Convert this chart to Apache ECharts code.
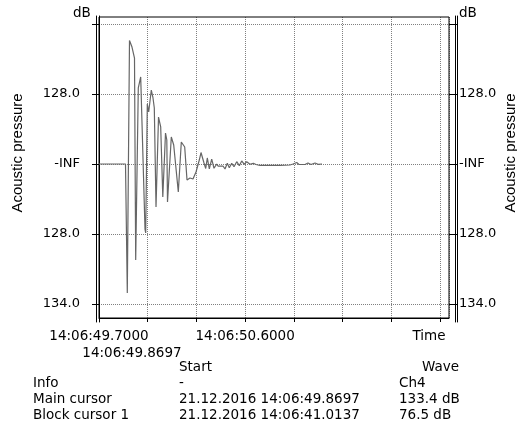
<!DOCTYPE html>
<html>
<head>
<meta charset="utf-8">
<script src="https://cdn.jsdelivr.net/npm/echarts@6/dist/echarts.min.js"></script>
<style>
html,body{margin:0;padding:0;background:#fff;}
#chart{width:517px;height:428px;}
</style>
</head>
<body>
<div id="chart"></div>
<script>
// Time offsets in seconds from 14:06:49.7000
var times = [0, 0.1632, 0.1743, 0.1878, 0.2032, 0.2186, 0.2260, 0.2420, 0.2568, 0.2833, 0.2876,
  0.2975, 0.3061, 0.3221, 0.3326, 0.3406, 0.3511, 0.3665, 0.3800, 0.3929, 0.4096, 0.4176,
  0.4219, 0.4453, 0.4601, 0.4884, 0.5069, 0.5278, 0.5420, 0.5605, 0.5789, 0.5974, 0.6177,
  0.6282, 0.6467, 0.6572, 0.6670, 0.6793, 0.6941, 0.7083, 0.7249, 0.7329, 0.7452, 0.7637,
  0.7760, 0.7902, 0.8025, 0.8173, 0.8315, 0.8481, 0.8641, 0.8789, 0.8949, 0.9097, 0.9300,
  0.9503, 0.9669, 0.9916, 1.0532, 1.1148, 1.1764, 1.1948, 1.2176, 1.2318, 1.2687, 1.2872,
  1.3057, 1.3303, 1.3488, 1.3734];
// Level on the display scale (0 = -INF line, +/-1 = 128.0, -2 = 134.0)
var levels = [0, 0, -1.843, 1.764, 1.671, 1.514, -1.371, 1.086, 1.243, -0.929, -0.986,
  0.857, 0.743, 1.057, 0.943, 0.8, -0.614, 0.671, 0.529, -0.471, 0.443, 0.343,
  -0.543, 0.386, 0.271, -0.4, 0.314, 0.243, -0.229, -0.2, -0.214, -0.114, 0.057,
  0.164, 0.014, -0.064, 0.086, -0.071, 0.071, -0.061, 0, -0.029, -0.057, -0.029,
  -0.071, 0.01, -0.053, 0.01, -0.039, 0.033, -0.024, 0.043, -0.004, 0.033, -0.004,
  0.01, -0.007, -0.021, -0.021, -0.021, -0.014, 0, 0.021, -0.007, -0.007, 0.014,
  -0.007, 0.014, -0.004, 0];
var yTickValues = [2, 1, 0, -1, -2];
var yTickLabels = ['', '128.0', '-INF', '128.0', '134.0'];
var xTickValues = [0, 0.9];
var xTickLabels = ['14:06:49.7000', '14:06:50.6000'];
var cursorTime = '14:06:49.8697';
var tableCols = ['', 'Start', 'Wave'];
var tableRowNames = ['Info', 'Main cursor', 'Block cursor 1'];
var tableStart = ['-', '21.12.2016 14:06:49.8697', '21.12.2016 14:06:41.0137'];
var tableWave = ['Ch4', '133.4 dB', '76.5 dB'];

var FONT = 'DejaVu Sans';
var FS = 13.5;
var chart = echarts.init(document.getElementById('chart'), null, {renderer: 'canvas'});

function yFmt(v) {
  for (var i = 0; i < yTickValues.length; i++) {
    if (Math.abs(v - yTickValues[i]) < 1e-6) return yTickLabels[i];
  }
  return '';
}
function xFmt(v) {
  for (var i = 0; i < xTickValues.length; i++) {
    if (Math.abs(v - xTickValues[i]) < 1e-6) return xTickLabels[i];
  }
  return '';
}
var data = times.map(function (t, i) { return [t, levels[i]]; });
var XMAX = 2.1555;
var dotted = {color: '#808080', type: [1, 1], width: 1};
var txt = {fontFamily: FONT, fontSize: FS, color: '#000'};
var ytxt = {fontFamily: FONT, fontSize: 13, color: '#000'};

var graphics = [];
function addText(x, y, s, align) {
  graphics.push({type: 'text', style: {text: s, x: x, y: y, fill: '#000', font: FS + 'px "' + FONT + '"', textAlign: align || 'left', textVerticalAlign: 'middle'}});
}
addText(73, 13, 'dB', 'left');
addText(459, 13, 'dB', 'left');
addText(429, 336, 'Time', 'center');
addText(132, 353, cursorTime, 'center');
addText(179, 367, tableCols[1], 'left');
addText(422, 367, tableCols[2], 'left');
for (var r = 0; r < tableRowNames.length; r++) {
  var yy = 383 + r * 16;
  addText(33, yy, tableRowNames[r], 'left');
  addText(179, yy, tableStart[r], 'left');
  addText(399, yy, tableWave[r], 'left');
}
graphics.push({type: 'text', x: 18, y: 153, rotation: Math.PI / 2,
  style: {text: 'Acoustic pressure', fill: '#000', font: '15px "Liberation Sans"', textAlign: 'center', textVerticalAlign: 'middle'}});
graphics.push({type: 'text', x: 511, y: 153, rotation: Math.PI / 2,
  style: {text: 'Acoustic pressure', fill: '#000', font: '15px "Liberation Sans"', textAlign: 'center', textVerticalAlign: 'middle'}});

var option = {
  animation: false,
  backgroundColor: '#fff',
  grid: [
    {left: 99, right: 68, top: 17, bottom: 110, show: true, borderColor: '#000', borderWidth: 1, backgroundColor: 'transparent', z: 4},
    {left: 99, right: 68, top: 24, bottom: 124},
    {left: 99, right: 68, top: 16, bottom: 106}
  ],
  xAxis: [
    {gridIndex: 0, type: 'value', min: 0, max: XMAX, interval: 0.3,
      axisLine: {show: true, lineStyle: {color: '#000', width: 1}},
      axisTick: {show: true, length: 4, lineStyle: {color: '#000'}},
      axisLabel: Object.assign({margin: 11, formatter: xFmt, showMaxLabel: false, hideOverlap: false}, txt),
      splitLine: {show: true, lineStyle: dotted}},
    {gridIndex: 1, type: 'value', min: 0, max: XMAX, show: false},
    {gridIndex: 2, type: 'value', min: 0, max: XMAX, show: false}
  ],
  yAxis: [
    {gridIndex: 1, type: 'value', position: 'left', min: -2, max: 2, interval: 1,
      axisLine: {show: false},
      axisTick: {show: true, length: 7, lineStyle: {color: '#000'}},
      axisLabel: Object.assign({margin: 19, formatter: yFmt}, ytxt),
      splitLine: {show: true, lineStyle: dotted}},
    {gridIndex: 1, type: 'value', position: 'right', min: -2, max: 2, interval: 1,
      axisLine: {show: false},
      axisTick: {show: true, length: 9, lineStyle: {color: '#000'}},
      axisLabel: Object.assign({margin: 10, formatter: yFmt}, ytxt),
      splitLine: {show: false}},
    {gridIndex: 2, type: 'value', position: 'left', offset: 5, axisLine: {show: true, lineStyle: {color: '#000'}}, axisTick: {show: false}, axisLabel: {show: false}, splitLine: {show: false}},
    {gridIndex: 2, type: 'value', position: 'left', offset: 3, axisLine: {show: true, lineStyle: {color: '#000'}}, axisTick: {show: false}, axisLabel: {show: false}, splitLine: {show: false}},
    {gridIndex: 2, type: 'value', position: 'right', offset: 6, axisLine: {show: true, lineStyle: {color: '#000'}}, axisTick: {show: false}, axisLabel: {show: false}, splitLine: {show: false}},
    {gridIndex: 2, type: 'value', position: 'right', offset: 8, axisLine: {show: true, lineStyle: {color: '#000'}}, axisTick: {show: false}, axisLabel: {show: false}, splitLine: {show: false}},
    {gridIndex: 0, type: 'value', min: 0, max: 1, axisLine: {show: false}, axisTick: {show: false}, axisLabel: {show: false}, splitLine: {show: false}}
  ],
  series: [{
    type: 'line', xAxisIndex: 1, yAxisIndex: 0, data: data,
    symbol: 'none', showSymbol: false,
    lineStyle: {color: '#666666', width: 1.2},
    z: 5
  }],
  graphic: graphics
};
chart.setOption(option);
</script>
</body>
</html>
